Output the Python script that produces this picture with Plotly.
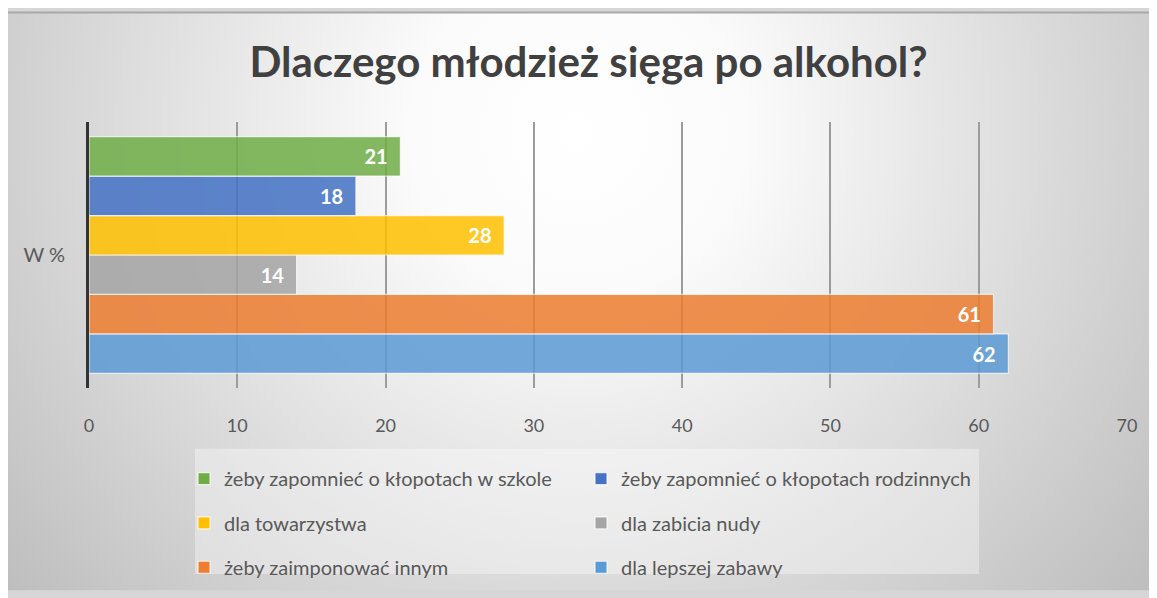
import base64
import plotly.graph_objects as go

# ---- data ----
title_text = "Dlaczego młodzież sięga po alkohol?"
category = ["W %"]
# order as listed in the legend (top bar first)
series_names = [
    "żeby zapomnieć o kłopotach w szkole",
    "żeby zapomnieć o kłopotach rodzinnych",
    "dla towarzystwa",
    "dla zabicia nudy",
    "żeby zaimponować innym",
    "dla lepszej zabawy",
]
series_values = [21, 18, 28, 14, 61, 62]
series_colors = ["#70AD47", "#4472C4", "#FFC000", "#A5A5A5", "#ED7D31", "#5B9BD5"]
x_ticks = [0, 10, 20, 30, 40, 50, 60, 70]

# legend rows (2 items per row)
legend_ids = ["legend", "legend", "legend2", "legend2", "legend3", "legend3"]

# the page adds an 8px body margin; positions below are figure pixels
W, H = 1149, 590
L, R, T, B = 81, 30, 114, 200
PW, PH = W - L - R, H - T - B


def px_x(p):
    return (p - L) / PW


def px_y(p):
    return (H - B - p) / PH


fig = go.Figure()
# plotly draws the first trace at the bottom of a horizontal group -> add reversed
for name, val, col, lg in reversed(list(zip(series_names, series_values, series_colors, legend_ids))):
    fig.add_trace(go.Bar(
        y=category, x=[val], name=name, orientation="h",
        marker=dict(color=col, opacity=0.85,
                    line=dict(color="rgba(255,255,255,0.75)", width=1.2)),
        text=[val], texttemplate="%{x}\u00a0\u00a0",
        textposition="inside", insidetextanchor="end",
        textfont=dict(family="Lato", size=20, color="white", weight="bold"),
        legend=lg, hoverinfo="skip",
    ))

# background gradient (styling only)
svg = (
    "<svg xmlns='http://www.w3.org/2000/svg' width='1150' height='600' "
    "viewBox='0 0 1150 600' preserveAspectRatio='none'>"
    "<defs><radialGradient id='g' cx='570' cy='125' r='760' gradientUnits='userSpaceOnUse'>"
    "<stop offset='0' stop-color='#ffffff'/>"
    "<stop offset='0.22' stop-color='#fbfbfb'/>"
    "<stop offset='1' stop-color='#bcbcbc'/>"
    "</radialGradient></defs>"
    "<rect width='1150' height='600' fill='url(#g)'/></svg>"
)
src = "data:image/svg+xml;base64," + base64.b64encode(svg.encode()).decode()

legend_common = dict(
    orientation="h", entrywidth=352, entrywidthmode="pixels",
    xanchor="left", yanchor="middle", traceorder="reversed",
    bgcolor="rgba(0,0,0,0)",
    font=dict(family="Lato", size=20, color="#595959"),
)
lx = px_x(176)

fig.update_layout(
    width=W, height=H,
    margin=dict(l=L, r=R, t=T, b=B, pad=0),
    paper_bgcolor="#d6d6d6", plot_bgcolor="rgba(0,0,0,0)",
    barmode="group", bargap=0.11, bargroupgap=0.0,
    title=dict(text=title_text, x=580.5 / W, xref="container", xanchor="center",
               y=1 - 54 / H, yanchor="middle",
               font=dict(family="Lato", size=42, color="#404040", weight="bold")),
    xaxis=dict(range=[0, 70], tickvals=x_ticks, showgrid=True,
               gridcolor="#9c9c9c", gridwidth=1.5, zeroline=False,
               showline=False, ticks="", ticklabelstandoff=25,
               tickfont=dict(family="Lato", size=18, color="#595959"),
               fixedrange=True),
    yaxis=dict(showline=True, linecolor="#333333", linewidth=3,
               showgrid=False, ticks="", ticklabelstandoff=17,
               tickfont=dict(family="Lato", size=20, color="#595959"),
               fixedrange=True),
    legend=dict(x=lx, y=px_y(484), **legend_common),
    legend2=dict(x=lx, y=px_y(530), **legend_common),
    legend3=dict(x=lx, y=px_y(576), **legend_common),
    images=[dict(source=src, xref="paper", yref="paper",
                 x=px_x(0), y=px_y(0), sizex=W / PW, sizey=(H + 10) / PH,
                 xanchor="left", yanchor="top", sizing="stretch", layer="below")],
    shapes=[
        dict(type="rect", xref="paper", yref="paper",
             x0=px_x(187), x1=px_x(971), y0=px_y(583), y1=px_y(453),
             fillcolor="rgba(255,255,255,0.35)", line=dict(width=0), layer="below"),
        dict(type="line", xref="paper", yref="paper",
             x0=px_x(0), x1=px_x(W), y0=px_y(0.5), y1=px_y(0.5),
             line=dict(color="#a8a8a8", width=2)),
    ],
    showlegend=True,
)

fig.write_html("out.html")
